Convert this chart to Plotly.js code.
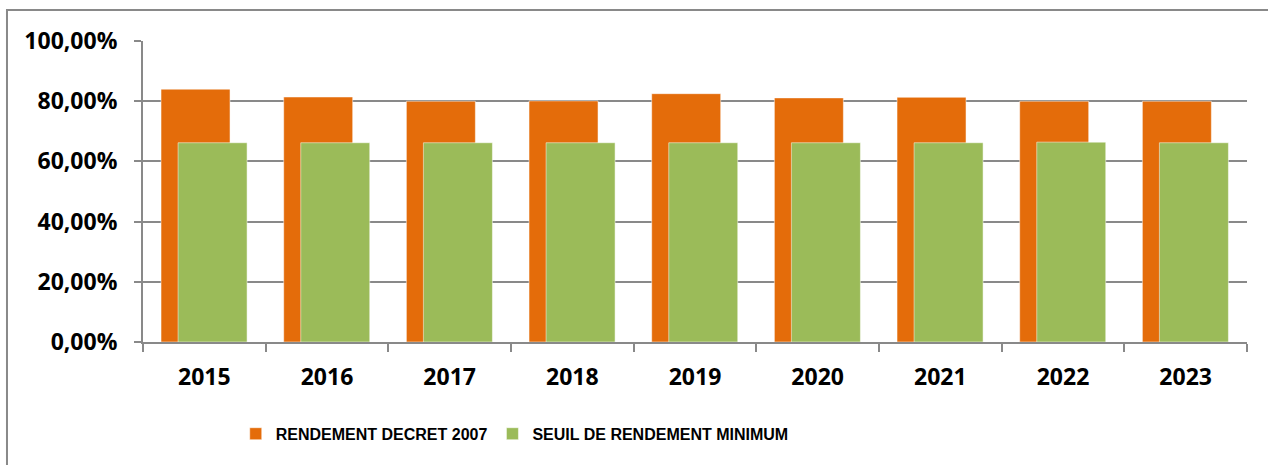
<!DOCTYPE html>
<html>
<head>
<meta charset="utf-8">
<script src="https://cdn.plot.ly/plotly-3.0.1.min.js"></script>
<style>html,body{margin:0;padding:0;background:#fff;}#chart{width:1268px;height:465px;}</style>
</head>
<body>
<div id="chart"></div>
<script>
const years = ['2015','2016','2017','2018','2019','2020','2021','2022','2023'];
const rendementDecret = [0.840, 0.814, 0.800, 0.801, 0.825, 0.811, 0.813, 0.800, 0.800];
const seuilMinimum = [0.662, 0.662, 0.662, 0.662, 0.662, 0.662, 0.662, 0.664, 0.662];
const seriesNames = ['RENDEMENT DECRET 2007', 'SEUIL DE RENDEMENT MINIMUM'];

const tickFont = {family: '"Open Sans", "Liberation Sans", sans-serif', size: 23, color: '#000', weight: 'bold'};

const traces = [
  {
    type: 'bar', x: years, y: rendementDecret, name: seriesNames[0],
    marker: {color: '#E46C0A', line: {color: 'rgba(255,255,255,0.5)', width: 1}},
    width: 0.5625, offset: -0.353, hoverinfo: 'x+y'
  },
  {
    type: 'bar', x: years, y: seuilMinimum, name: seriesNames[1],
    marker: {color: '#9BBB59', line: {color: 'rgba(255,255,255,0.5)', width: 1}},
    width: 0.5625, offset: -0.214, hoverinfo: 'x+y'
  }
];

const layout = {
  width: 1268, height: 465,
  margin: {l: 143, r: 21, t: 41, b: 123, pad: 0},
  paper_bgcolor: '#fff', plot_bgcolor: '#fff',
  separators: ', ',
  barmode: 'overlay',
  showlegend: true,
  legend: {
    orientation: 'h', x: 0.084, xanchor: 'left', y: -0.305, yanchor: 'middle',
    font: {family: '"Liberation Sans", Arial, sans-serif', size: 16, color: '#000', weight: 'bold'},
    itemwidth: 30, bgcolor: 'rgba(0,0,0,0)'
  },
  xaxis: {
    type: 'category', showgrid: false, zeroline: false,
    showline: true, linecolor: '#898989', linewidth: 2,
    ticks: 'outside', tickson: 'boundaries', ticklen: 8, tickwidth: 2, tickcolor: '#898989',
    tickfont: tickFont, ticklabelstandoff: 13, fixedrange: true
  },
  yaxis: {
    range: [0, 1], dtick: 0.2, tick0: 0, tickformat: '.2%',
    showgrid: true, gridcolor: '#898989', gridwidth: 2, zeroline: false,
    showline: true, linecolor: '#898989', linewidth: 2,
    ticks: 'outside', ticklen: 7, tickwidth: 2, tickcolor: '#898989',
    tickfont: tickFont, ticklabelstandoff: 12, fixedrange: true
  },
  shapes: [
    {type: 'rect', xref: 'paper', yref: 'paper', x0: -0.1232, x1: 1.06, y0: -0.45, y1: 1.103,
     line: {color: '#898989', width: 2}, fillcolor: 'rgba(0,0,0,0)', layer: 'below'}
  ]
};

Plotly.newPlot('chart', traces, layout, {displayModeBar: false, staticPlot: true});
</script>
</body>
</html>
